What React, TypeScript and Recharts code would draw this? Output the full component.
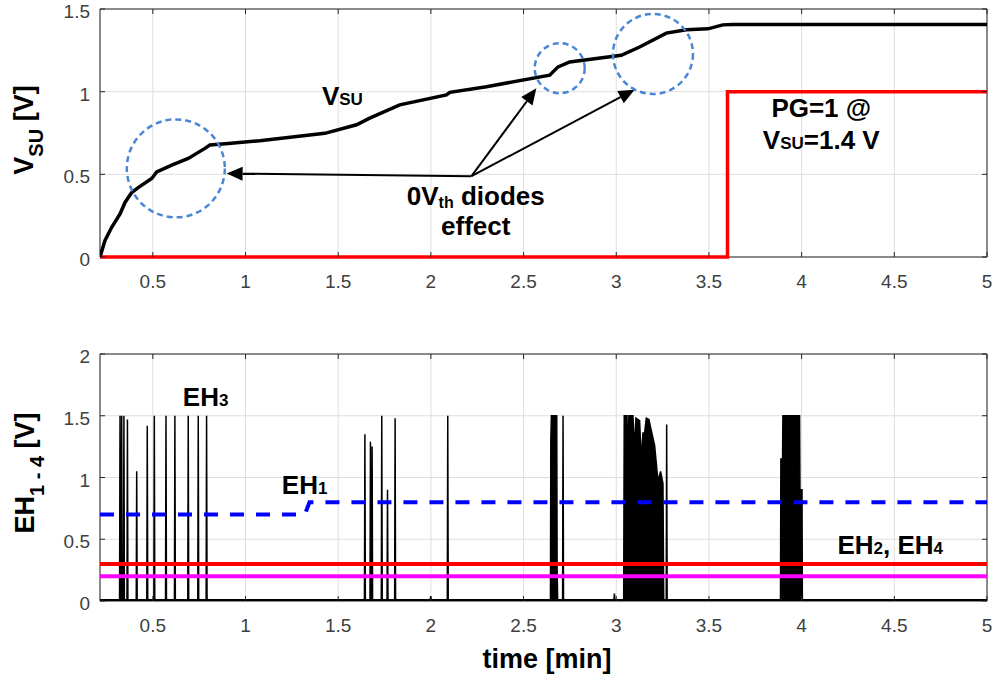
import React from "react";
import {
  Area,
  CartesianGrid,
  ComposedChart,
  Line,
  ReferenceArea,
  ReferenceDot,
  ReferenceLine,
  XAxis,
  YAxis,
} from "recharts";

// ---- data ----
const xTicks = [0.5, 1, 1.5, 2, 2.5, 3, 3.5, 4, 4.5, 5];
const vsuTicks = [0, 0.5, 1, 1.5];
const ehTicks = [0, 0.5, 1, 1.5, 2];

const vsuTime = [
  0.215, 0.242, 0.278, 0.323, 0.35, 0.386, 0.421, 0.494, 0.521, 0.602, 0.691, 0.781, 0.808, 0.907, 1.077,
  1.428, 1.599, 1.67, 1.832, 2.084, 2.102, 2.3, 2.641, 2.686, 2.749, 3.027, 3.126, 3.27, 3.378, 3.494, 3.575,
  3.629, 5,
];
const vsuValue = [
  0, 0.1, 0.18, 0.26, 0.33, 0.39, 0.42, 0.475, 0.515, 0.556, 0.596, 0.657, 0.677, 0.687, 0.703, 0.748, 0.8,
  0.84, 0.92, 0.98, 0.996, 1.03, 1.1, 1.15, 1.18, 1.22, 1.27, 1.354, 1.374, 1.38, 1.404, 1.406, 1.406,
];

const pgTime = [0.215, 3.6, 3.6, 5];
const pgValue = [0, 0, 1, 1];

const eh1Time = [0.215, 1.32, 1.345, 5];
const eh1Value = [0.7, 0.7, 0.8, 0.8];
const eh2Time = [0.215, 5];
const eh2Value = [0.3, 0.3];
const eh4Time = [0.215, 5];
const eh4Value = [0.2, 0.2];

// EH3: single pulses
const eh3SpikeTime = [
  0.323, 0.332, 0.344, 0.363, 0.413, 0.47, 0.508, 0.571, 0.619, 0.691, 0.745, 0.79, 1.644, 1.674, 1.683, 1.735,
  1.766, 1.807, 1.999, 2.091, 2.713, 2.99, 3.272,
];
const eh3SpikePeak = [
  1.5, 1.5, 1.5, 1.47, 1.05, 1.42, 1.5, 1.5, 1.5, 1.5, 1.5, 1.5, 1.35, 1.29, 1.25, 1.5, 0.9, 1.48, 0.04, 1.5,
  1.5, 0.06, 1.43,
];
// EH3: dense bursts (envelope)
const eh3BurstTime = [
  2.645, 2.647, 2.65, 2.679, 2.681, 2.684,
  3.04, 3.043, 3.058, 3.063, 3.068, 3.09, 3.099, 3.106, 3.126, 3.135, 3.144, 3.153, 3.162, 3.176, 3.189, 3.207,
  3.225, 3.239, 3.252, 3.256,
  3.886, 3.888, 3.897, 3.899, 3.931, 3.935, 3.939, 3.989, 3.991, 4.002, 4.004,
];
const eh3BurstValue = [
  0.01, 1.3, 1.5, 1.5, 0.25, 0.01,
  0.01, 1.5, 1.5, 1.09, 1.5, 1.5, 1.22, 1.48, 1.46, 1.14, 1.36, 1.36, 1.48, 1.47, 1.38, 1.26, 0.97, 1.05, 0.95,
  0.01,
  0.01, 1.15, 1.15, 1.5, 1.5, 0.05, 1.5, 1.5, 0.9, 0.9, 0.01,
];
const eh3Base = 0.01;

const zip = (t: number[], v: number[]) => t.map((x, i) => ({ t: x, v: v[i] }));

const vsuData = zip(vsuTime, vsuValue);
const pgData = zip(pgTime, pgValue);
const eh1Data = zip(eh1Time, eh1Value);
const eh2Data = zip(eh2Time, eh2Value);
const eh4Data = zip(eh4Time, eh4Value);

const eh3Data = (() => {
  const pts = [{ t: 0.215, v: eh3Base }, { t: 5, v: eh3Base }, ...zip(eh3BurstTime, eh3BurstValue)];
  eh3SpikeTime.forEach((t, i) => {
    pts.push({ t: t - 0.0025, v: eh3Base }, { t, v: eh3SpikePeak[i] }, { t: t + 0.0025, v: eh3Base });
  });
  return pts.sort((a, b) => a.t - b.t);
})();

// ---- styling ----
const font = "'Liberation Sans', Arial, sans-serif";
const axisColor = "#262626";
const tickColor = "#404040";
const gridColor = "#dedede";
const circleColor = "#4a86d6";
const X_DOMAIN: [number, number] = [0.215, 5];
const PLOT_RIGHT = 987;

const xTick = (plotTop: number) => (props: any) => {
  const { x, y, payload } = props;
  return (
    <g>
      <line x1={x} y1={y} x2={x} y2={y - 5} stroke={axisColor} />
      <line x1={x} y1={plotTop} x2={x} y2={plotTop + 5} stroke={axisColor} />
      <text x={x} y={y + 31} textAnchor="middle" fontSize={19} fill={tickColor} fontFamily={font}>
        {String(payload.value)}
      </text>
    </g>
  );
};

const yTick = (props: any) => {
  const { x, y, payload } = props;
  return (
    <g>
      <line x1={x} y1={y} x2={x + 5} y2={y} stroke={axisColor} />
      <line x1={PLOT_RIGHT} y1={y} x2={PLOT_RIGHT - 5} y2={y} stroke={axisColor} />
      <text x={x - 10} y={y + 9} textAnchor="end" fontSize={19} fill={tickColor} fontFamily={font}>
        {String(payload.value)}
      </text>
    </g>
  );
};

const arrowShape = (props: any) => {
  const { x1, y1, x2, y2 } = props;
  const a = Math.atan2(y2 - y1, x2 - x1);
  const len = 16;
  const half = 7;
  const bx = x2 - len * Math.cos(a);
  const by = y2 - len * Math.sin(a);
  const px = -Math.sin(a) * half;
  const py = Math.cos(a) * half;
  return (
    <g>
      <line x1={x1} y1={y1} x2={bx} y2={by} stroke="#000" strokeWidth={2} />
      <polygon points={`${x2},${y2} ${bx + px},${by + py} ${bx - px},${by - py}`} fill="#000" />
    </g>
  );
};

const textShape = (children: React.ReactNode, anchor: "start" | "middle" = "start") => (props: any) => (
  <text
    x={props.cx}
    y={props.cy}
    textAnchor={anchor}
    fontFamily={font}
    fontWeight="bold"
    fontSize={26}
    fill="#000"
  >
    {children}
  </text>
);

function TopChart() {
  return (
    <ComposedChart width={997} height={300} margin={{ top: 9, right: 10, bottom: 0, left: 0 }}>
      <CartesianGrid stroke={gridColor} />
      <XAxis
        type="number"
        dataKey="t"
        domain={X_DOMAIN}
        ticks={xTicks}
        interval={0}
        height={43}
        tickSize={0}
        tickMargin={0}
        axisLine={false}
        tickLine={false}
        tick={xTick(9)}
        allowDataOverflow
      />
      <YAxis
        type="number"
        domain={[0, 1.5]}
        ticks={vsuTicks}
        interval={0}
        width={100}
        tickSize={0}
        tickMargin={0}
        axisLine={false}
        tickLine={false}
        tick={yTick}
      />
      <ReferenceArea x1={X_DOMAIN[0]} x2={X_DOMAIN[1]} y1={0} y2={1.5} fill="none" stroke={axisColor} />
      <Line data={pgData} dataKey="v" type="linear" stroke="#ff0000" strokeWidth={3.5} dot={false} isAnimationActive={false} />
      <Line data={vsuData} dataKey="v" type="linear" stroke="#000" strokeWidth={3.5} dot={false} isAnimationActive={false} />

      <ReferenceDot x={0.624} y={0.536} r={49} fill="none" stroke={circleColor} strokeWidth={2.5} strokeDasharray="6 4" />
      <ReferenceDot x={2.695} y={1.142} r={25} fill="none" stroke={circleColor} strokeWidth={2.5} strokeDasharray="6 4" />
      <ReferenceDot x={3.198} y={1.228} r={40} fill="none" stroke={circleColor} strokeWidth={2.5} strokeDasharray="6 4" />

      <ReferenceLine segment={[{ x: 2.219, y: 0.489 }, { x: 0.898, y: 0.505 }]} shape={arrowShape} ifOverflow="visible" />
      <ReferenceLine segment={[{ x: 2.219, y: 0.489 }, { x: 2.569, y: 1.02 }]} shape={arrowShape} ifOverflow="visible" />
      <ReferenceLine segment={[{ x: 2.219, y: 0.489 }, { x: 3.099, y: 1.012 }]} shape={arrowShape} ifOverflow="visible" />

      <ReferenceDot
        x={1.412}
        y={0.919}
        shape={textShape(
          <>
            V<tspan fontSize={17}>SU</tspan>
          </>
        )}
      />
      <ReferenceDot
        x={2.242}
        y={0.313}
        shape={(p: any) =>
          textShape(
            <>
              <tspan x={p.cx}>
                0V<tspan fontSize={16} dy={3}>th</tspan>
                <tspan dy={-3}> diodes</tspan>
              </tspan>
              <tspan x={p.cx} dy={30}>
                effect
              </tspan>
            </>,
            "middle"
          )(p)
        }
      />
      <ReferenceDot
        x={4.106}
        y={0.848}
        shape={(p: any) =>
          textShape(
            <>
              <tspan x={p.cx}>PG=1 @</tspan>
              <tspan x={p.cx} dy={32}>
                V<tspan fontSize={17}>SU</tspan>=1.4 V
              </tspan>
            </>,
            "middle"
          )(p)
        }
      />
    </ComposedChart>
  );
}

function BottomChart() {
  return (
    <ComposedChart width={997} height={380} margin={{ top: 54, right: 10, bottom: 0, left: 0 }}>
      <CartesianGrid stroke={gridColor} />
      <XAxis
        type="number"
        dataKey="t"
        domain={X_DOMAIN}
        ticks={xTicks}
        interval={0}
        height={79}
        tickSize={0}
        tickMargin={0}
        axisLine={false}
        tickLine={false}
        tick={xTick(54)}
        allowDataOverflow
      />
      <YAxis
        type="number"
        domain={[0, 2]}
        ticks={ehTicks}
        interval={0}
        width={100}
        tickSize={0}
        tickMargin={0}
        axisLine={false}
        tickLine={false}
        tick={yTick}
      />
      <ReferenceArea x1={X_DOMAIN[0]} x2={X_DOMAIN[1]} y1={0} y2={2} fill="none" stroke={axisColor} />
      <Area
        data={eh3Data}
        dataKey="v"
        type="linear"
        stroke="#000"
        strokeWidth={1.5}
        fill="#000"
        fillOpacity={1}
        dot={false}
        isAnimationActive={false}
      />
      <Line
        data={eh1Data}
        dataKey="v"
        type="linear"
        stroke="#0000ff"
        strokeWidth={4}
        strokeDasharray="14 12"
        dot={false}
        isAnimationActive={false}
      />
      <Line data={eh2Data} dataKey="v" type="linear" stroke="#ff0000" strokeWidth={4} dot={false} isAnimationActive={false} />
      <Line data={eh4Data} dataKey="v" type="linear" stroke="#ff00ff" strokeWidth={4} dot={false} isAnimationActive={false} />

      <ReferenceDot
        x={0.662}
        y={1.579}
        shape={textShape(
          <>
            EH<tspan fontSize={17}>3</tspan>
          </>
        )}
      />
      <ReferenceDot
        x={1.196}
        y={0.864}
        shape={textShape(
          <>
            EH<tspan fontSize={17}>1</tspan>
          </>
        )}
      />
      <ReferenceDot
        x={4.193}
        y={0.381}
        shape={textShape(
          <>
            EH<tspan fontSize={17}>2</tspan>, EH<tspan fontSize={17}>4</tspan>
          </>
        )}
      />
    </ComposedChart>
  );
}

export default function App() {
  return (
    <div style={{ position: "absolute", left: 0, top: 0, width: 997, height: 680, background: "#fff" }}>
      <div style={{ position: "absolute", left: 0, top: 0 }}>
        <TopChart />
      </div>
      <div style={{ position: "absolute", left: 0, top: 300 }}>
        <BottomChart />
      </div>
      <svg
        width={997}
        height={680}
        style={{ position: "absolute", left: 0, top: 0, pointerEvents: "none" }}
        fontFamily={font}
        fontWeight="bold"
      >
        <text transform="translate(33,130) rotate(-90)" textAnchor="middle" fontSize={27} fill="#000">
          V<tspan fontSize={20} dy={10}>SU</tspan>
          <tspan dy={-10}> [V]</tspan>
        </text>
        <text transform="translate(34,473) rotate(-90)" textAnchor="middle" fontSize={27} fill="#000">
          EH<tspan fontSize={20} dy={10}>1 - 4</tspan>
          <tspan dy={-10}> [V]</tspan>
        </text>
        <text x={547} y={668} textAnchor="middle" fontSize={27} fill="#000">
          time [min]
        </text>
      </svg>
    </div>
  );
}
